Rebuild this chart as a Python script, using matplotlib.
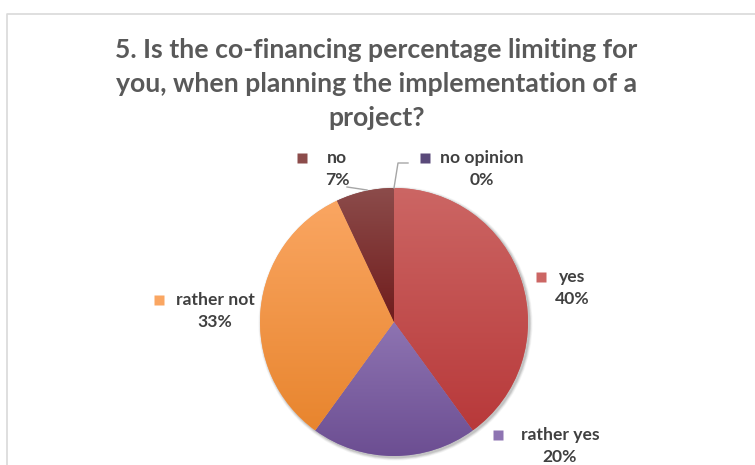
import numpy as np
import matplotlib.pyplot as plt
from matplotlib.colors import LinearSegmentedColormap

# survey answers, clockwise from 12 o'clock
answers = ['yes', 'rather yes', 'rather not', 'no', 'no opinion']
shares = [40, 20, 33, 7, 0]
top_colors = ['#CC6664', '#8E74B2', '#FAA662', '#8C4C4B', '#5A4A7A']
bottom_colors = ['#B8393A', '#6C4E92', '#E8852E', '#701C1C', '#3E3060']

title = '5. Is the co-financing percentage limiting for\nyou, when planning the implementation of a\nproject?'

# label anchors (px, from the top-left corner): marker x, text x, y of name line
label_pos = {
    'yes': (541, 572, 277),
    'rather yes': (498, 560, 435),
    'rather not': (159, 215, 300),
    'no': (302, 337, 158),
    'no opinion': (425, 482, 158),
}

W, H = 755, 465
fig = plt.figure(figsize=(W / 100, H / 100), dpi=100)
ax = fig.add_axes([0, 0, 1, 1])

cx, cy, r = 394, H - 322, 134

# soft drop shadow behind the pie
for k, a in zip([6, 4.5, 3, 1.5], [0.04, 0.05, 0.07, 0.09]):
    ax.add_patch(plt.Circle((cx + 1.5, cy - 1.5), r + k * 0.5, color='#000000', alpha=a, lw=0, zorder=1))

wedges, _ = ax.pie(shares, center=(cx, cy), radius=r, startangle=90, counterclock=False,
                   colors=top_colors, wedgeprops=dict(linewidth=0), frame=True)

# vertical gradient inside each slice
for w, c0, c1 in zip(wedges, top_colors, bottom_colors):
    w.set_zorder(2)
    if w.theta2 - w.theta1 <= 0:
        continue
    bb = w.get_path().get_extents(w.get_patch_transform())
    cmap = LinearSegmentedColormap.from_list('g', [c1, c0])
    grad = np.linspace(0, 1, 256).reshape(-1, 1)
    im = ax.imshow(grad, cmap=cmap, origin='lower', aspect='auto',
                   extent=(bb.x0, bb.x1, bb.y0, bb.y1), zorder=3, interpolation='bilinear')
    im.set_clip_path(w)

ax.set_xlim(0, W)
ax.set_ylim(0, H)
ax.axis('off')

# chart area border (only top and left edges fall inside the image)
ax.plot([7, 7, W + 5], [-5, H - 14, H - 14], color='#D9D9D9', lw=1.2, zorder=0)

ax.text(W / 2 - 1, H - 84, title, ha='center', va='center', fontsize=19.2, fontweight='bold',
        family='Lato', color='#595959', linespacing=1.52)

txt_color = '#404040'
for name, val, col in zip(answers, shares, top_colors):
    mx, tx, ty = label_pos[name]
    ax.plot(mx, H - ty, marker='s', ms=7, color=col, mec='none', zorder=5)
    ax.text(tx, H - ty, name, ha='center', va='center', fontsize=12.6, fontweight='bold',
            family='Lato', color=txt_color)
    ax.text(tx, H - ty - 22, f'{val}%', ha='center', va='center', fontsize=12.6, fontweight='bold',
            family='Lato', color=txt_color)

# leader lines for the two small slices
ax.plot([347, 367], [H - 187, H - 190], color='#A6A6A6', lw=1, zorder=4)
ax.plot([394, 398, 408], [H - 188, H - 163, H - 163], color='#A6A6A6', lw=1, zorder=4)

fig.savefig('out.png', dpi=100)
